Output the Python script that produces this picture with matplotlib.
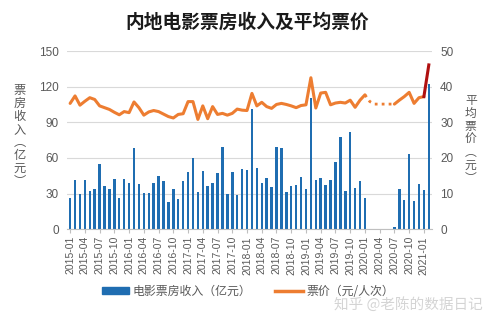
import numpy as np
import matplotlib
matplotlib.use("Agg")
import matplotlib.pyplot as plt
from matplotlib.patches import Patch
from matplotlib.lines import Line2D

plt.rcParams['font.family'] = ['Noto Sans CJK SC', 'DejaVu Sans']

# 月份 2015-01 ~ 2021-02
months = [f"{y}-{m:02d}" for y in range(2015, 2022) for m in range(1, 13)][:74]

# 票房收入（亿元）
box_office = [
    26.0, 41.0, 29.4, 41.0, 31.7, 33.4, 54.6, 36.2, 34.2, 41.9, 26.6, 41.9,
    38.5, 68.2, 37.6, 30.8, 30.8, 38.5, 44.6, 40.4, 22.6, 33.6, 25.2, 40.4,
    48.0, 60.0, 31.0, 49.0, 36.0, 38.8, 47.3, 69.3, 29.5, 48.0, 28.5, 50.6,
    49.8, 101.2, 51.4, 38.8, 43.0, 35.4, 69.5, 68.5, 31.3, 36.3, 37.2, 43.9,
    33.8, 110.7, 41.4, 43.1, 37.2, 41.4, 56.4, 77.6, 32.0, 81.8, 34.6, 40.5,
    26.2, 0, 0, 0, 0, 0, 1.7, 33.7, 24.5, 63.3, 23.6, 38.0,
    32.9, 122.3,
]

# 平均票价（元/人次）
price = [
    35.3, 37.4, 34.8, 35.9, 36.9, 36.4, 34.6, 34.1, 33.6, 32.8, 32.1, 33.0,
    32.7, 35.7, 34.1, 32.0, 32.9, 33.3, 33.0, 32.3, 31.6, 31.2, 32.2, 32.4,
    35.8, 35.8, 30.8, 34.6, 31.0, 34.4, 32.2, 32.5, 32.0, 32.5, 33.7, 33.4,
    33.3, 38.1, 34.6, 35.6, 34.4, 33.9, 35.0, 35.3, 35.0, 34.6, 34.1, 34.7,
    34.9, 42.5, 34.0, 38.2, 38.4, 34.9, 35.4, 35.6, 35.4, 36.2, 34.2, 36.2,
    37.7, np.nan, np.nan, np.nan, np.nan, np.nan, 35.1, 36.2, 37.2, 38.4, 35.3, 36.9,
    37.2, 46.1,
]
# 停业期间的票价（虚线）
price_gap = [37.7, 35.8, 35.1, 35.1, 35.1, 35.1, 35.1]

x = np.arange(len(months))
price = np.array(price)

blue = '#1f6db1'
orange = '#ed7d31'
red = '#b01010'
gray = '#595959'

fig = plt.figure(figsize=(4.94, 3.25), dpi=100)
ax = fig.add_axes([0.136, 0.295, 0.738, 0.548])
ax2 = ax.twinx()

ax.bar(x, box_office, width=0.5, color=blue, zorder=2)
ax.set_ylim(0, 150)
ax.set_yticks(range(0, 151, 30))
ax.grid(axis='y', color='#d9d9d9', linewidth=0.8, zorder=0)
ax.set_axisbelow(True)

# 票价线：2021-01 之前橙色，之后一段为红色
ax2.plot(x[:73], price[:73], color=orange, linewidth=2.2, solid_capstyle='round')
ax2.plot(x[60:67], price_gap, color=orange, linewidth=2.0, linestyle=(0, (1, 1.5)))
ax2.plot(x[72:74], price[72:74], color=red, linewidth=2.2)
ax2.set_ylim(0, 50)
ax2.set_yticks(range(0, 51, 10))

ax.set_xlim(-0.6, len(months) - 0.4)
ax.set_xticks(x[::3])
ax.set_xticklabels(months[::3], rotation=90, fontsize=7.5, color=gray,
                   family=['Liberation Sans', 'DejaVu Sans'])
for a in (ax, ax2):
    for s in ('top', 'left', 'right'):
        a.spines[s].set_visible(False)
    a.spines['bottom'].set_color('#bfbfbf')
    a.tick_params(axis='y', length=0, labelsize=8.5, labelcolor=gray, pad=6)
ax.tick_params(axis='x', length=3, color='#bfbfbf', pad=2)
ax2.spines['bottom'].set_visible(False)
for lbl in ax.get_yticklabels() + ax2.get_yticklabels():
    lbl.set_family(['Liberation Sans', 'DejaVu Sans'])

fig.text(0.5, 0.931, '内地电影票房收入及平均票价', ha='center', va='center',
         fontsize=13.5, fontweight='bold', color='#1a1a1a')

# 竖排坐标轴标题
fig.text(0.040, 0.582, '\n'.join('票房收入︵亿元︶'), ha='center', va='center',
         fontsize=8.8, color=gray, linespacing=1.0)
fig.text(0.953, 0.572, '\n'.join('平均票价︵元︶'), ha='center', va='center',
         fontsize=8.5, color=gray, linespacing=1.0)

handles = [Patch(color=blue), Line2D([], [], color=orange, linewidth=2.5)]
fig.legend(handles, ['电影票房收入（亿元）', '票价（元/人次）'], loc='center',
           bbox_to_anchor=(0.502, 0.103), ncol=2, frameon=False, fontsize=8.6,
           handlelength=2.3, handleheight=0.5, columnspacing=2.0,
           handletextpad=0.3, labelcolor=gray)

fig.text(0.977, 0.062, '知乎 @老陈的数据日记', ha='right', va='center',
         fontsize=10.5, color='#d0d0d0', alpha=0.9)

fig.savefig('out.png', dpi=100)
